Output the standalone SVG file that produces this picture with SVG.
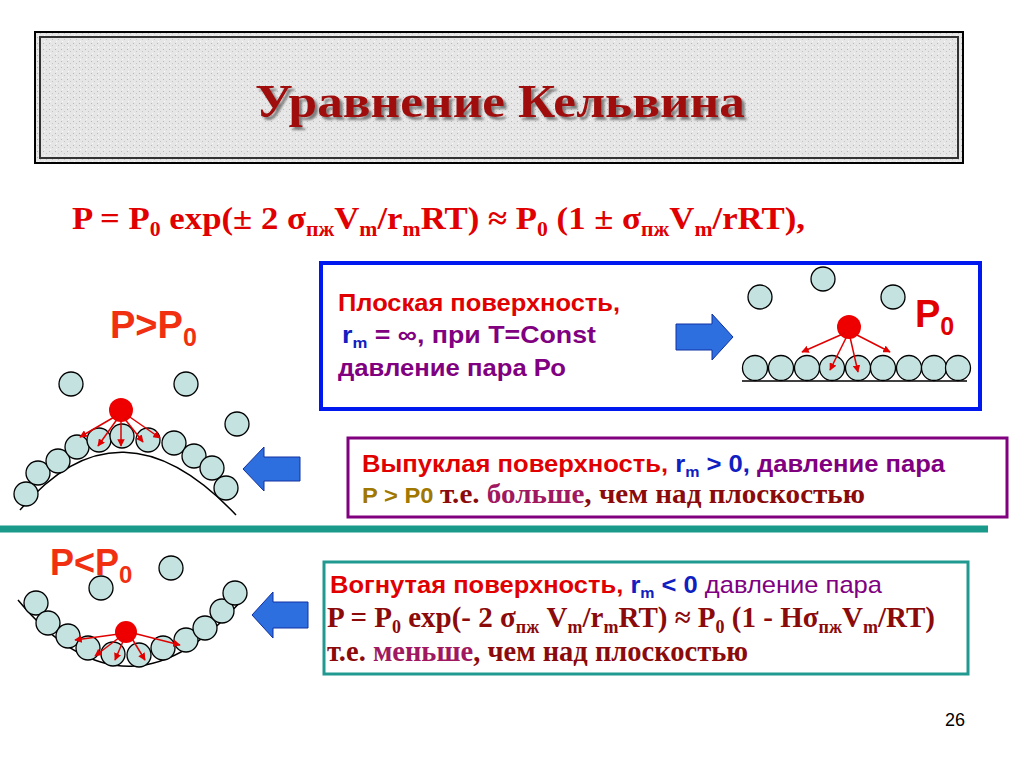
<svg xmlns="http://www.w3.org/2000/svg" width="1024" height="767" viewBox="0 0 1024 767">
<defs>
<marker id="ah" viewBox="0 0 10 10" refX="9" refY="5" markerWidth="5" markerHeight="5" orient="auto"><path d="M0,0L10,5L0,10z" fill="#e00000"/></marker>
<pattern id="tex" width="6" height="6" patternUnits="userSpaceOnUse"><rect width="6" height="6" fill="#e6e6e6"/><rect x="1" y="1" width="1" height="1" fill="#b8b8b8"/><rect x="4" y="3" width="1" height="1" fill="#c4c4c4"/><rect x="2" y="5" width="1" height="1" fill="#fafafa"/></pattern>
<filter id="sh" x="-5%" y="-20%" width="110%" height="140%"><feDropShadow dx="3" dy="3" stdDeviation="1" flood-color="#666" flood-opacity="0.8"/></filter>
</defs>
<style>
.m{fill:#c4e2e0;stroke:#000;stroke-width:1.3}
.rd{fill:#ee0000}
.ar{stroke:#e00000;stroke-width:1.5;fill:none;marker-end:url(#ah)}
.sans{font-family:"Liberation Sans",Arial,sans-serif;font-weight:bold}
.serif{font-family:"Liberation Serif","Times New Roman",serif;font-weight:bold}
.bar{fill:#2e6fe0;stroke:#1030a0;stroke-width:1}
</style>
<rect width="1024" height="767" fill="#fff"/>
<g id="title">
<rect x="35" y="32" width="928" height="131" fill="url(#tex)" stroke="#000" stroke-width="2"/>
<rect x="40" y="37" width="918" height="121" fill="none" stroke="#333" stroke-width="2"/>
<text x="255" y="117" class="serif" font-size="46" fill="#a01010" filter="url(#sh)" textLength="490" lengthAdjust="spacingAndGlyphs">Уравнение Кельвина</text>
</g>
<g id="formula">
<text x="72" y="229" class="serif" font-size="32" fill="#e00000" textLength="733" lengthAdjust="spacingAndGlyphs">P = P<tspan font-size="20" dy="7">0</tspan><tspan dy="-7"> exp(± 2 σ</tspan><tspan font-size="20" dy="7">пж</tspan><tspan dy="-7">V</tspan><tspan font-size="20" dy="7">m</tspan><tspan dy="-7">/r</tspan><tspan font-size="20" dy="7">m</tspan><tspan dy="-7">RT) ≈ P</tspan><tspan font-size="20" dy="7">0</tspan><tspan dy="-7"> (1 ± σ</tspan><tspan font-size="20" dy="7">пж</tspan><tspan dy="-7">V</tspan><tspan font-size="20" dy="7">m</tspan><tspan dy="-7">/rRT),</tspan></text>
</g>
<g id="flat">
<rect x="321" y="263" width="659" height="146" fill="none" stroke="#0018f0" stroke-width="4"/>
<text x="338" y="311" class="sans" font-size="24" fill="#e00000" textLength="282" lengthAdjust="spacingAndGlyphs">Плоская поверхность,</text>
<text x="342" y="343" class="sans" font-size="24" fill="#800080" textLength="254" lengthAdjust="spacingAndGlyphs"><tspan fill="#1020c0">r<tspan font-size="15" dy="5">m</tspan></tspan><tspan dy="-5"> = ∞, при  T=Const</tspan></text>
<text x="338" y="376" class="sans" font-size="24" fill="#800080" textLength="228" lengthAdjust="spacingAndGlyphs">давление пара Ро</text>
<path class="bar" d="M676,324H712V314L733,337L712,360V350H676z"/>
<line x1="742" y1="381" x2="967" y2="381" stroke="#000" stroke-width="1.5"/>
<circle class="m" cx="755" cy="368" r="12.5"/><circle class="m" cx="781" cy="368" r="12.5"/><circle class="m" cx="807" cy="368" r="12.5"/><circle class="m" cx="832" cy="368" r="12.5"/><circle class="m" cx="858" cy="368" r="12.5"/><circle class="m" cx="883" cy="368" r="12.5"/><circle class="m" cx="909" cy="368" r="12.5"/><circle class="m" cx="934" cy="368" r="12.5"/><circle class="m" cx="958" cy="368" r="12.5"/>
<circle class="m" cx="760" cy="297" r="12"/><circle class="m" cx="823" cy="279" r="12"/><circle class="m" cx="893" cy="297" r="12"/>
<circle class="rd" cx="849" cy="327" r="12"/>
<line class="ar" x1="845" y1="333" x2="802" y2="352"/><line class="ar" x1="847" y1="336" x2="830" y2="370"/><line class="ar" x1="850" y1="337" x2="858" y2="372"/><line class="ar" x1="855" y1="334" x2="890" y2="352"/>
<text x="915" y="327" class="sans" font-size="38" font-weight="normal" fill="#e00000">P<tspan font-size="25" dy="8">0</tspan></text>
</g>
<g id="convex">
<text x="110" y="338" class="sans" font-size="38" font-weight="normal" fill="#f03010">P&gt;P<tspan font-size="25" dy="8">0</tspan></text>
<path d="M20,510Q120,392 236,515" fill="none" stroke="#000" stroke-width="1.5"/>
<circle class="m" cx="26" cy="494" r="12"/><circle class="m" cx="38" cy="473" r="12"/><circle class="m" cx="58" cy="461" r="12"/><circle class="m" cx="77" cy="447" r="12"/><circle class="m" cx="99" cy="440" r="12"/><circle class="m" cx="122" cy="436" r="12"/><circle class="m" cx="148" cy="440" r="12"/><circle class="m" cx="174" cy="443" r="12"/><circle class="m" cx="194" cy="456" r="12"/><circle class="m" cx="212" cy="468" r="12"/><circle class="m" cx="226" cy="488" r="12"/>
<circle class="m" cx="71" cy="384" r="12"/><circle class="m" cx="186" cy="384" r="12"/><circle class="m" cx="237" cy="424" r="12"/>
<circle class="rd" cx="121" cy="410" r="12"/>
<line class="ar" x1="116" y1="416" x2="80" y2="437"/><line class="ar" x1="118" y1="418" x2="98" y2="446"/><line class="ar" x1="121" y1="420" x2="121" y2="446"/><line class="ar" x1="124" y1="418" x2="143" y2="442"/><line class="ar" x1="127" y1="415" x2="160" y2="438"/>
<rect x="348" y="438" width="659" height="79" fill="none" stroke="#800080" stroke-width="3"/>
<text x="362" y="472" class="sans" font-size="24" fill="#e00000" textLength="583" lengthAdjust="spacingAndGlyphs">Выпуклая поверхность,<tspan fill="#1020c0"> r<tspan font-size="15" dy="5">m</tspan><tspan dy="-5"> &gt; 0,</tspan></tspan><tspan fill="#800080"> давление пара</tspan></text>
<text x="362" y="503" class="sans" font-size="22" fill="#a07800" textLength="503" lengthAdjust="spacingAndGlyphs">P &gt; P0 <tspan class="serif" font-size="27" fill="#8b0a0a">т.е. <tspan fill="#a01860">больше</tspan>, чем над плоскостью</tspan></text>
<path class="bar" d="M300,457H264V447L243,469L264,491V481H300z"/>
</g>
<line x1="0" y1="529" x2="988" y2="529" stroke="#1a9a8a" stroke-width="7"/>
<g id="concave">
<text x="50" y="575" class="sans" font-size="36" font-weight="normal" fill="#f03010">P&lt;P<tspan font-size="24" dy="8">0</tspan></text>
<path d="M18,600Q130,735 246,595" fill="none" stroke="#000" stroke-width="1.5"/>
<circle class="m" cx="36" cy="603" r="12"/><circle class="m" cx="48" cy="623" r="12"/><circle class="m" cx="68" cy="636" r="12"/><circle class="m" cx="88" cy="648" r="12"/><circle class="m" cx="113" cy="654" r="12"/><circle class="m" cx="139" cy="655" r="12"/><circle class="m" cx="163" cy="648" r="12"/><circle class="m" cx="186" cy="640" r="12"/><circle class="m" cx="205" cy="628" r="12"/><circle class="m" cx="222" cy="611" r="12"/><circle class="m" cx="235" cy="593" r="12"/>
<circle class="m" cx="101" cy="588" r="12"/><circle class="m" cx="171" cy="568" r="12"/>
<circle class="rd" cx="126" cy="632" r="11"/>
<line class="ar" x1="119" y1="634" x2="75" y2="640"/><line class="ar" x1="120" y1="637" x2="95" y2="656"/><line class="ar" x1="124" y1="639" x2="115" y2="660"/><line class="ar" x1="131" y1="637" x2="145" y2="660"/><line class="ar" x1="133" y1="633" x2="180" y2="645"/>
<rect x="324" y="562" width="644" height="112" fill="none" stroke="#209a90" stroke-width="3"/>
<text x="330" y="593" class="sans" font-size="24" fill="#e00000" textLength="552" lengthAdjust="spacingAndGlyphs">Вогнутая поверхность,<tspan fill="#1020c0"> r<tspan font-size="15" dy="5">m</tspan><tspan dy="-5"> &lt; 0</tspan></tspan><tspan fill="#800080" font-weight="normal"> давление пара</tspan></text>
<text x="327" y="627" class="serif" font-size="29" fill="#8b0a0a" textLength="608" lengthAdjust="spacingAndGlyphs">P = P<tspan font-size="18" dy="6">0</tspan><tspan dy="-6"> exp(- 2 σ</tspan><tspan font-size="18" dy="6">пж</tspan><tspan dy="-6"> V</tspan><tspan font-size="18" dy="6">m</tspan><tspan dy="-6">/r</tspan><tspan font-size="18" dy="6">m</tspan><tspan dy="-6">RT) ≈ P</tspan><tspan font-size="18" dy="6">0</tspan><tspan dy="-6"> (1 - Hσ</tspan><tspan font-size="18" dy="6">пж</tspan><tspan dy="-6">V</tspan><tspan font-size="18" dy="6">m</tspan><tspan dy="-6">/RT)</tspan></text>
<text x="327" y="661" class="serif" font-size="29" fill="#8b0a0a" textLength="421" lengthAdjust="spacingAndGlyphs">т.е. <tspan fill="#a01860">меньше</tspan>, чем над плоскостью</text>
<path class="bar" d="M308,602H273V592L252,615L273,638V628H308z" fill="#0020ff"/>
</g>
<text x="955" y="726" text-anchor="middle" font-family="Liberation Sans,Arial,sans-serif" font-size="18" fill="#000">26</text>
</svg>
